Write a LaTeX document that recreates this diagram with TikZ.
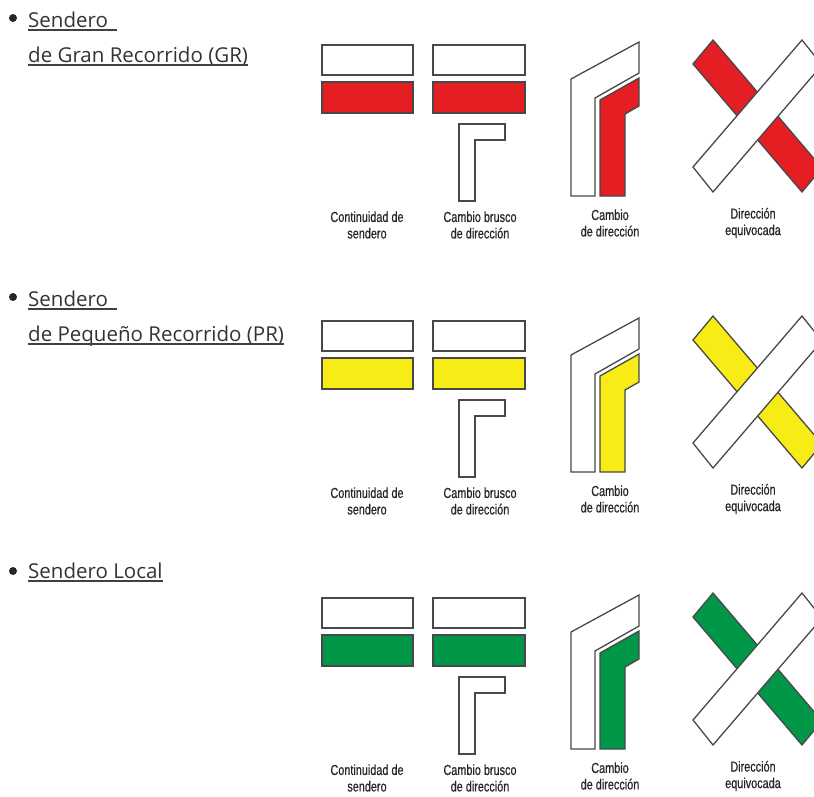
\documentclass[tikz,border=0pt]{standalone}
\usepackage{fontspec}
\setmainfont{Open Sans}
\newfontfamily\etiq[FakeStretch=0.75, FakeBold=0.6]{Liberation Sans}
\usepackage{tikz}
\usetikzlibrary{calc}

\definecolor{rojo}{RGB}{228,30,34}
\definecolor{amarillo}{RGB}{248,236,22}
\definecolor{verde}{RGB}{0,152,72}
\definecolor{trazo}{RGB}{72,72,72}

\begin{document}
\begin{tikzpicture}[x=1pt, y=-1pt, line join=miter,
    marca/.style={draw=trazo, line width=1.3pt},
    etiqueta/.style={font=\etiq\fontsize{14.5}{16.5}\selectfont, align=center, text=black!85, inner sep=0pt},
    titulo/.style={font=\fontsize{20.5}{24}\selectfont, anchor=base west, inner sep=0pt, text=black!80},
    subrayado/.style={draw=black!75, line width=1.2pt}]
    \useasboundingbox (0,0) rectangle (814,796);
    \clip (0,0) rectangle (814,796);

    % 标题
    \fill[black!85] (13,18) circle (4pt);
    \node[titulo] (gr1) at (28,27) {Sendero};
    \node[titulo] (gr2) at (28,62) {de Gran Recorrido (GR)};
    \draw[subrayado] ($(gr1.base west)+(0,3)$) -- ($(gr1.base east)+(9,3)$);
    \draw[subrayado] ($(gr2.base west)+(0,3)$) -- ($(gr2.base east)+(0,3)$);

    \fill[black!85] (13,297) circle (4pt);
    \node[titulo] (pr1) at (28,306) {Sendero};
    \node[titulo] (pr2) at (28,341) {de Pequeño Recorrido (PR)};
    \draw[subrayado] ($(pr1.base west)+(0,3)$) -- ($(pr1.base east)+(9,3)$);
    \draw[subrayado] ($(pr2.base west)+(0,3)$) -- ($(pr2.base east)+(0,3)$);

    \fill[black!85] (13,571) circle (4pt);
    \node[titulo] (sl1) at (28,578) {Sendero Local};
    \draw[subrayado] ($(sl1.base west)+(0,3)$) -- ($(sl1.base east)+(0,3)$);

    % 三组标志
    \foreach \colr/\dy/\i in {rojo/0/1, amarillo/276/2, verde/553/3} {
      \begin{scope}[shift={(0,\dy)}]
        % 连续
        \draw[marca, fill=white] (322,45) rectangle (413,75);
        \draw[marca, fill=\colr] (322,82) rectangle (413,113);
        % 急转
        \draw[marca, fill=white] (433,45) rectangle (525,75);
        \draw[marca, fill=\colr] (433,82) rectangle (525,113);
        \draw[marca, fill=white] (459,201) -- (459,124) -- (505,124) -- (505,140)
          -- (475,140) -- (475,201) -- cycle;
        % 转向
        \draw[marca, fill=white] (571,196) -- (571,79) -- (639,42) -- (639,73)
          -- (595,98) -- (595,196) -- cycle;
        \draw[marca, fill=\colr] (600,196) -- (600,100) -- (639,78) -- (639,106)
          -- (625,114) -- (625,196) -- cycle;
        % 错误方向
        \draw[marca, fill=\colr] (713,40) -- (693,64) -- (802,192) -- (822,168) -- cycle;
        \draw[marca, fill=white] (693,167) -- (713,192) -- (822,65) -- (802,40) -- cycle;
        % 说明文字
        \node[etiqueta] (cont\i) at (367,225) {Continuidad de\\sendero};
        \node[etiqueta] (brusco\i) at (480,225) {Cambio brusco\\de dirección};
        \node[etiqueta] (cambio\i) at (610,223) {Cambio\\de dirección};
        \node[etiqueta] (equiv\i) at (753,223) {Dirección\\equivocada};
      \end{scope}
    }
\end{tikzpicture}
\end{document}
